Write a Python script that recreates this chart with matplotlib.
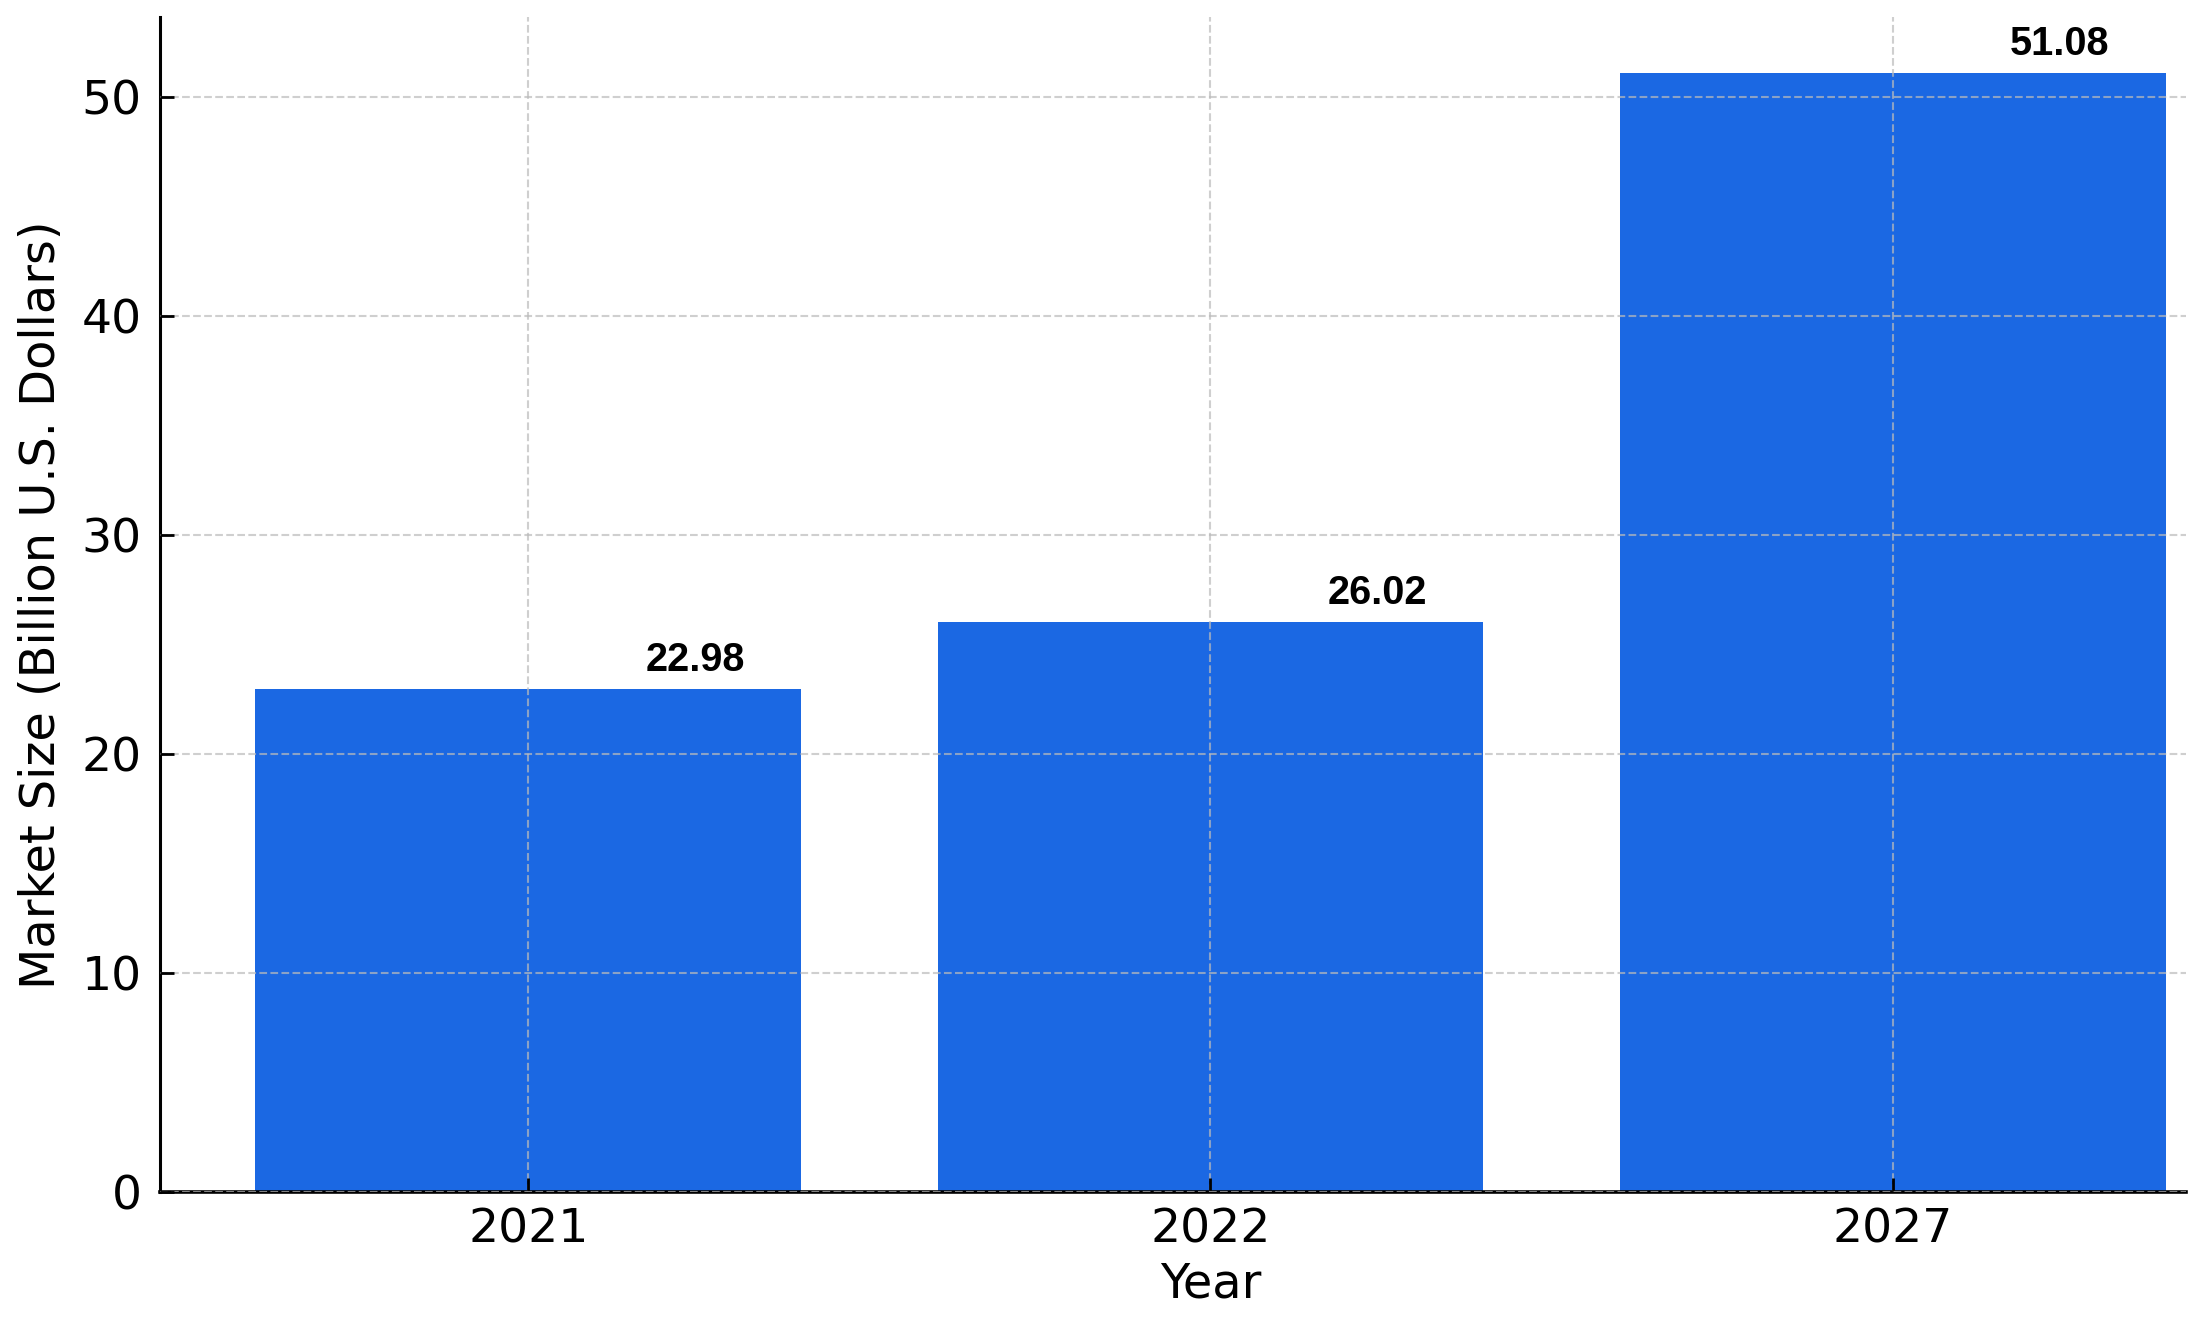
import matplotlib
matplotlib.use('Agg')
import matplotlib.pyplot as plt

years = ['2021', '2022', '2027']
market_size = [22.98, 26.02, 51.08]
value_labels = ['22.98', '26.02', '51.08']


def main():
    fig = plt.figure(figsize=(21.97, 13.27), dpi=100)
    ax = fig.add_axes([0.0728, 0.1017, 0.9222, 0.8853])

    pos = list(range(len(years)))
    ax.bar(pos, market_size, width=0.8, color='#1b68e3', zorder=1)

    # value labels, shifted right of the bar centre
    for p, v, lab in zip(pos, market_size, value_labels):
        ax.text(p + 0.245, v + 0.45, lab, ha='center', va='bottom',
                fontsize=28.5, fontweight='bold', family='Liberation Sans', zorder=3)

    ax.set_xticks(pos)
    ax.set_xticklabels(years)
    ax.set_xlim(-0.54, 2.43)
    ax.set_ylim(0, 51.08 * 1.05)
    ax.set_yticks([0, 10, 20, 30, 40, 50])

    ax.grid(True, linestyle='--', color='#bbbbbb', linewidth=1.5, alpha=0.7, zorder=2)
    ax.set_axisbelow(False)

    ax.spines['top'].set_visible(False)
    ax.spines['right'].set_visible(False)
    ax.spines['left'].set_linewidth(2.2)
    ax.spines['bottom'].set_linewidth(2.6)
    ax.tick_params(axis='both', direction='in', length=10, width=2, labelsize=34)
    ax.tick_params(axis='x', pad=11)
    ax.tick_params(axis='y', pad=13)

    ax.set_xlabel('Year', fontsize=34.5, labelpad=6)
    ax.set_ylabel('Market Size (Billion U.S. Dollars)', fontsize=34.5, labelpad=12)
    # the "Year" label sits under the middle bar
    xmin, xmax = ax.get_xlim()
    ax.xaxis.label.set_x((1 - xmin) / (xmax - xmin))

    fig.savefig('out.png', dpi=100)


if __name__ == '__main__':
    main()
